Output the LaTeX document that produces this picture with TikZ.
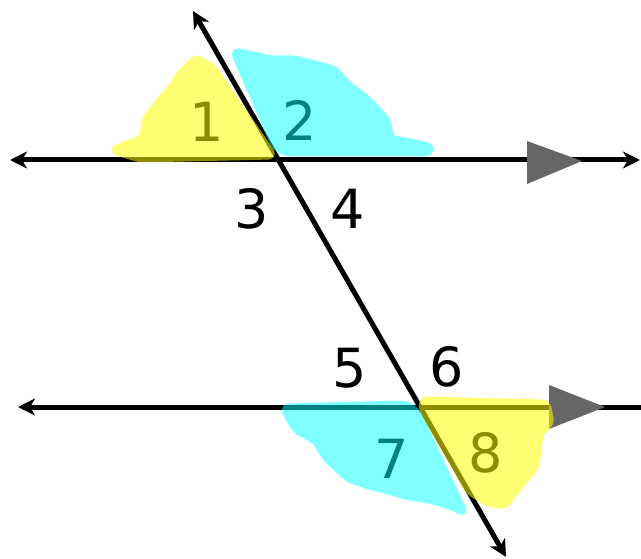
\documentclass[tikz,border=0pt]{standalone}
\usepackage{fontspec}
\setmainfont{DejaVu Sans}
\usetikzlibrary{arrows.meta}
\definecolor{hy}{HTML}{FFFF00}
\definecolor{hc}{HTML}{00FFFF}
\definecolor{dg}{HTML}{666666}
\begin{document}
\begin{tikzpicture}[x=1pt,y=-1pt,
  ln/.style={line width=5pt,black},
  arr/.tip={Stealth[length=17pt,width=17pt,inset=5pt]},
  both/.style={arr-arr},
  dir/.style={fill=dg,draw=none},
  lbl/.style={font=\fontsize{54}{58}\selectfont,inner sep=0pt},
  hlY/.style={fill=hy,draw=hy,line width=9pt,line join=round,rounded corners=4pt},
  hlC/.style={fill=hc,draw=hc,line width=9pt,line join=round,rounded corners=4pt}]
\useasboundingbox (0,0) rectangle (641,559);
% coordinates
\coordinate (tl) at (10,160);
\coordinate (tr) at (640,160);
\coordinate (bl) at (18,407);
\coordinate (br) at (641,407);
\coordinate (tt) at (193,11);
\coordinate (tb) at (506,557);
% lines
\draw[ln,both] (tl) -- (tr);
\draw[ln,arr-] (bl) -- (br);
\draw[ln,both] (tt) -- (tb);
% direction triangles
\fill[dir] (527,141) -- (582,161) -- (527,184) -- cycle;
\fill[dir] (549,385) -- (605,407) -- (549,429) -- cycle;
% labels
\node[lbl] (n1) at (207,122) {1};
\node[lbl] (n2) at (300,120) {2};
\node[lbl] (n3) at (252,209) {3};
\node[lbl] (n4) at (348,209) {4};
\node[lbl] (n5) at (350,368) {5};
\node[lbl] (n6) at (447,367) {6};
\node[lbl] (n7) at (392,459) {7};
\node[lbl] (n8) at (486,453) {8};
% highlights
\begin{scope}[transparency group,opacity=0.55]
\draw[hlY] (114,150) -- (143,139) -- (147,118) -- (160,102) -- (172,88) -- (181,74)
  -- (196,59) -- (212,68) -- (272,155) -- (140,158) -- cycle;
\draw[hlY] (423,401) -- (546,404) -- (550,422) -- (539,433) -- (535,466) -- (522,482)
  -- (510,497) -- (505,505) -- (488,502) -- (470,491) -- (424,411) -- cycle;
\end{scope}
\begin{scope}[transparency group,opacity=0.5]
\draw[hlC] (235,52) -- (253,56) -- (270,60) -- (294,60) -- (315,65) -- (334,70)
  -- (346,84) -- (366,99) -- (386,120) -- (390,139) -- (430,147) -- (428,152)
  -- (287,152) -- (276,146) -- cycle;
\draw[hlC] (285,408) -- (405,405) -- (416,412) -- (463,512) -- (456,507) -- (430,499)
  -- (409,496) -- (392,491) -- (369,485) -- (349,478) -- (328,459) -- (316,440)
  -- (296,429) -- (288,414) -- cycle;
\end{scope}
\end{tikzpicture}
\end{document}
